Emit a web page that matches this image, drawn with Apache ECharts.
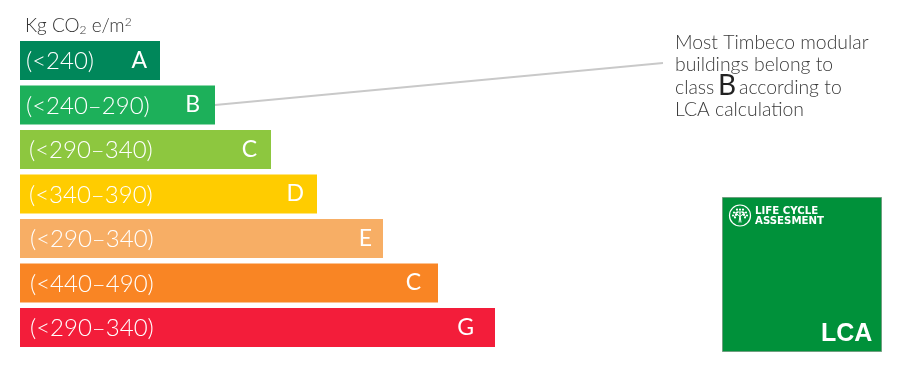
<!DOCTYPE html>
<html><head><meta charset="utf-8">
<style>html,body{margin:0;padding:0;background:#fff}#c{width:900px;height:368px}</style>
<script src="https://cdn.jsdelivr.net/npm/echarts@6/dist/echarts.min.js"></script>
</head><body><div id="c"></div>
<script>
const grades = ['A','B','C','D','E','C','G'];
const ranges = ['(<240)','(<240–290)','(<290–340)','(<340–390)','(<290–340)','(<440–490)','(<290–340)'];
const values = [140,195,251,297,363,418,475];
const colors = ['#00875A','#1DB05A','#8DC73F','#FFCC00','#F7AE65','#F98524','#F31D3A'];

const FONT = 'Lato';
const rangeInset = [6,6,9,9,10,10,10];
const gradeInset = [13,15,14,13,11,17,21];
const chart = echarts.init(document.getElementById('c'), null, {renderer:'canvas'});

const treeBranches = [[-1,7,0,0],[1,7,0,0],[0,1,-5,-3],[0,1,5,-3],[-2,-1,-6,1],[2,-1,6,1],[0,0,0,-5],[0,-2,-3,-5],[0,-2,3,-5]];
const treeLeaves = [[-6,-3],[-3,-6],[0,-6],[3,-6],[6,-3],[-7,0],[7,0],[-4,-1],[4,-1],[-3,-3],[3,-3],[-5,2],[5,2]];
const cx = 740, cy = 215.5;
const noteStyle = {fontFamily:FONT,fontWeight:300,fontSize:19.4,fill:'#3a3a3a',verticalAlign:'middle'};

chart.setOption({
  animation:false,
  backgroundColor:'#fff',
  grid:{left:20,top:38.25,width:475,height:311.5,containLabel:false},
  xAxis:{type:'value',min:0,max:475,show:false},
  yAxis:{type:'category',inverse:true,data:grades,show:false},
  series:[
    {type:'bar',barWidth:39,barGap:'-100%',silent:true,
     data:values.map((v,i)=>({value:v,itemStyle:{color:colors[i]},
       label:{show:true,position:'insideLeft',distance:rangeInset[i],offset:[0,1],formatter:ranges[i],
         color:'#fff',fontFamily:FONT,fontWeight:300,fontSize:24}}))},
    {type:'bar',barWidth:39,barGap:'-100%',silent:true,itemStyle:{color:'transparent'},
     data:values.map((v,i)=>({value:v,
       label:{show:true,position:'insideRight',distance:gradeInset[i],formatter:grades[i],
         color:'#fff',fontFamily:FONT,fontWeight:400,fontSize:23}}))}
  ],
  graphic:[
    {type:'text',left:25,top:16,style:{
      text:'{a|Kg CO}{s|2}{a| e/m}{u|2}',
      rich:{a:{fontFamily:FONT,fontWeight:300,fontSize:19,fill:'#333',color:'#333'},
            s:{fontFamily:FONT,fontWeight:300,fontSize:12,fill:'#333',color:'#333',verticalAlign:'bottom',padding:[8,0,0,0]},
            u:{fontFamily:FONT,fontWeight:300,fontSize:12,fill:'#333',color:'#333',verticalAlign:'top',padding:[0,0,8,0]}}}},
    {type:'line',shape:{x1:215,y1:105,x2:663,y2:63},style:{stroke:'#c9c9c9',lineWidth:2}},
    {type:'text',x:675,y:43,style:{text:'Most Timbeco modular',...noteStyle}},
    {type:'text',x:675,y:65,style:{text:'buildings belong to',...noteStyle}},
    {type:'text',x:675,y:88,style:{text:'class',...noteStyle}},
    {type:'text',x:718,y:86,style:{...noteStyle,text:'B',fontSize:28,fontWeight:400,fill:'#222'}},
    {type:'text',x:739,y:88,style:{text:'according to',...noteStyle}},
    {type:'text',x:675,y:110,style:{text:'LCA calculation',...noteStyle}},
    {type:'rect',shape:{x:722.5,y:197.5,width:159,height:154},style:{fill:'#00913A',stroke:'#6f9f7f',lineWidth:1}},
    {type:'circle',shape:{cx:cx,cy:cy,r:10.5},style:{fill:'none',stroke:'#fff',lineWidth:1.2}},
    ...treeBranches.map(b=>({type:'line',shape:{x1:cx+b[0],y1:cy+b[1],x2:cx+b[2],y2:cy+b[3]},style:{stroke:'#fff',lineWidth:1}})),
    ...treeLeaves.map(l=>({type:'circle',shape:{cx:cx+l[0],cy:cy+l[1],r:1.1},style:{fill:'#fff'}})),
    {type:'text',x:755,y:206,style:{text:'LIFE CYCLE',fontFamily:'DejaVu Sans',fontWeight:700,fontSize:10.2,fill:'#fff'}},
    {type:'text',x:755,y:216.5,style:{text:'ASSESMENT',fontFamily:'DejaVu Sans',fontWeight:700,fontSize:10.2,fill:'#fff'}},
    {type:'text',x:821,y:322,style:{text:'LCA',fontFamily:'Liberation Sans',fontWeight:700,fontSize:25,fill:'#fff'}}
  ]
});
</script></body></html>
